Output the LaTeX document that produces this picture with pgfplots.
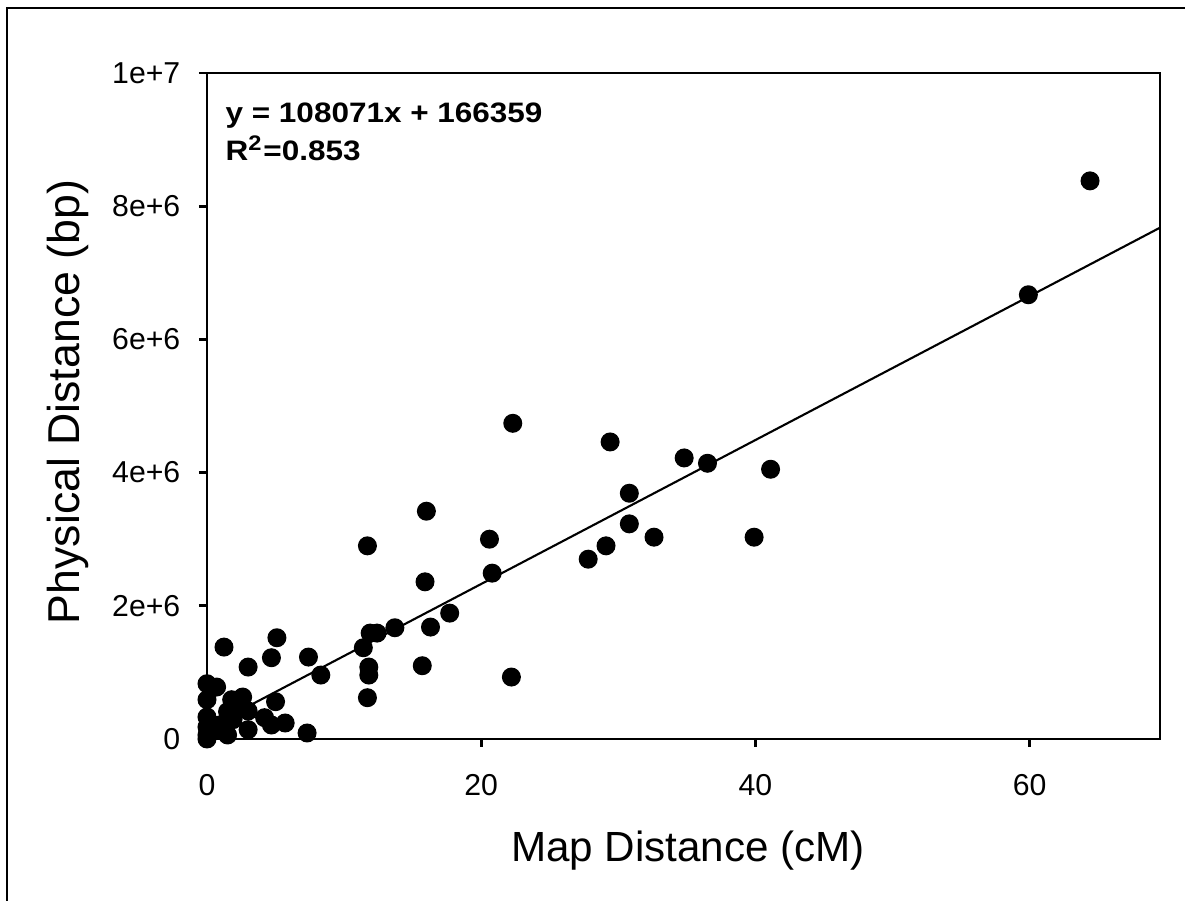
\documentclass[border=0pt]{standalone}
\usepackage{fontspec}
\setmainfont{Liberation Sans}
\usepackage{pgfplots}
\usepackage{pgfplotstable}
\pgfplotsset{compat=1.18}
\pgfplotstableread{
x y
64.4 8.38e6
59.9 6.67e6
22.3 4.74e6
29.4 4.46e6
34.8 4.22e6
36.5 4.14e6
41.1 4.05e6
30.8 3.69e6
30.8 3.23e6
32.6 3.03e6
39.9 3.03e6
29.1 2.90e6
27.8 2.70e6
20.6 3.00e6
20.8 2.49e6
17.7 1.89e6
22.2 0.93e6
16.0 3.42e6
11.7 2.90e6
15.9 2.36e6
16.3 1.68e6
13.7 1.67e6
11.9 1.59e6
12.4 1.59e6
11.4 1.37e6
11.8 1.08e6
11.8 0.96e6
15.7 1.10e6
11.7 0.62e6
5.1 1.52e6
1.24 1.38e6
4.7 1.22e6
7.4 1.23e6
3.0 1.08e6
8.3 0.96e6
0.0 0.83e6
0.7 0.78e6
0.0 0.59e6
5.0 0.56e6
1.8 0.59e6
2.6 0.63e6
1.5 0.41e6
2.2 0.48e6
3.0 0.42e6
4.2 0.32e6
4.7 0.21e6
5.7 0.24e6
1.5 0.06e6
3.0 0.14e6
7.3 0.09e6
0.0 0.33e6
0.0 0.18e6
0.0 0.06e6
0.0 0.0
0.9 0.21e6
1.9 0.29e6
0.7 0.14e6
1.2 0.18e6
}\pts
\begin{document}
\begin{tikzpicture}
\useasboundingbox (-20.7mm,-16.2mm) rectangle (97.8mm,73.9mm);
\draw[line width=0.6pt] (-20.0mm,-16.2mm) -- (-20.0mm,73.1mm) -- (97.8mm,73.1mm);
\begin{axis}[
  at={(0,0)}, anchor=south west,
  scale only axis, width=95.3mm, height=66.6mm,
  xmin=0, xmax=69.5, ymin=0, ymax=1e7,
  clip=false,
  axis line style={line width=0.8pt},
  tick style={line width=0.8pt, black},
  tick align=outside, tick pos=left,
  major tick length=0.8mm,
  xtick={0,20,40,60}, xticklabels={0,20,40,60},
  ytick={0,2e6,4e6,6e6,8e6,1e7},
  yticklabels={0,2e+6,4e+6,6e+6,8e+6,1e+7},
  scaled y ticks=false,
  ticklabel style={font=\fontsize{8.6}{10}\selectfont},
  xticklabel style={anchor=base, inner sep=0pt, yshift=-4.9mm},
  yticklabel style={anchor=east, inner sep=0pt, xshift=-1.8mm},
]
\addplot[black, line width=0.6pt] coordinates {(0,166359) (69.5,7677293)};
\addplot[only marks, mark=*, mark size=2.5pt, mark options={fill=black, draw=black}] table[x=x,y=y] {\pts};
\node[anchor=base west, font=\bfseries\fontsize{8}{9.6}\selectfont, xscale=1.12, inner sep=0pt] at (axis cs:1.3,9.26e6) {y = 108071x + 166359};
\node[anchor=base west, font=\bfseries\fontsize{8}{9.6}\selectfont, xscale=1.12, inner sep=0pt] at (axis cs:1.3,8.69e6) {R\textsuperscript{2}=0.853};
\end{axis}
\node[anchor=base, font=\fontsize{12}{14}\selectfont, inner sep=0pt] at (48.1mm,-12.3mm) {Map Distance (cM)};
\node[anchor=base, rotate=90, font=\fontsize{12.7}{15}\selectfont, inner sep=0pt] at (-12.7mm,33.7mm) {Physical Distance (bp)};
\end{tikzpicture}
\end{document}
